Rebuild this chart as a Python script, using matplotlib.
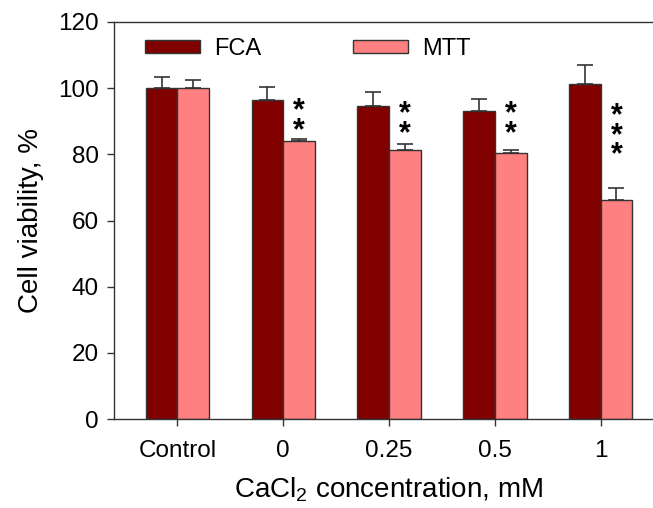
import matplotlib
matplotlib.use('Agg')
import matplotlib.pyplot as plt
import numpy as np

plt.rcParams['font.family'] = ['Liberation Sans', 'DejaVu Sans']
plt.rcParams['mathtext.fontset'] = 'custom'
plt.rcParams['mathtext.rm'] = 'Liberation Sans'
plt.rcParams['mathtext.it'] = 'Liberation Sans'

groups = ["Control", "0", "0.25", "0.5", "1"]
fca = [100.0, 96.4, 94.7, 93.0, 101.2]
fca_err = [3.3, 3.9, 4.0, 3.8, 5.8]
mtt = [100.0, 84.0, 81.3, 80.5, 66.2]
mtt_err = [2.6, 0.7, 1.9, 0.8, 3.6]
stars = [0, 2, 2, 2, 3]
star_top = [0, 97.5, 96.5, 96.5, 96.0]

fca_color = "#800000"
mtt_color = "#FF8080"
edge = "#333333"

fig = plt.figure(figsize=(6.53, 5.08), dpi=100)
ax = fig.add_axes([114/653, 1 - 419/508, 550/653, 397/508])

x = np.arange(len(groups))
w = 0.3
err_kw = dict(ecolor=edge, elinewidth=1.2, capsize=6, capthick=1.2)
ax.bar(x - w/2, fca, w, color=fca_color, edgecolor=edge, linewidth=1,
       yerr=[np.zeros(len(fca)), fca_err], error_kw=err_kw, label="FCA")
ax.bar(x + w/2, mtt, w, color=mtt_color, edgecolor=edge, linewidth=1,
       yerr=[np.zeros(len(mtt)), mtt_err], error_kw=err_kw, label="MTT")

# significance marks, one stacked text per group
for i, n in enumerate(stars):
    if n:
        ax.text(x[i] + w/2, star_top[i], "\n".join(["*"] * n), ha="center", va="top",
                fontsize=22, fontweight="bold", linespacing=0.55, color="black")

ax.set_xlim(-0.6, 4.6)
ax.set_ylim(0, 120)
ax.set_yticks(range(0, 121, 20))
ax.set_xticks(x)
ax.set_xticklabels(groups)
ax.tick_params(axis="both", labelsize=17.5, direction="out", length=5, width=1, color=edge)
ax.tick_params(axis="x", pad=10)
ax.tick_params(axis="y", pad=6)
for s in ["left", "top", "bottom"]:
    ax.spines[s].set_color(edge)
    ax.spines[s].set_linewidth(1)
ax.spines["right"].set_visible(False)

ax.set_ylabel("Cell viability, %", fontsize=20, labelpad=10)
ax.set_xlabel("CaCl$_2$ concentration, mM", fontsize=20, labelpad=10)

ax.legend(loc="upper left", bbox_to_anchor=(31/550, 0.96), ncol=2, frameon=False,
          fontsize=17, handlelength=2.33, handleheight=0.5, handletextpad=0.6,
          columnspacing=3.9, borderaxespad=0, borderpad=0)

fig.savefig("out.png", dpi=100)
